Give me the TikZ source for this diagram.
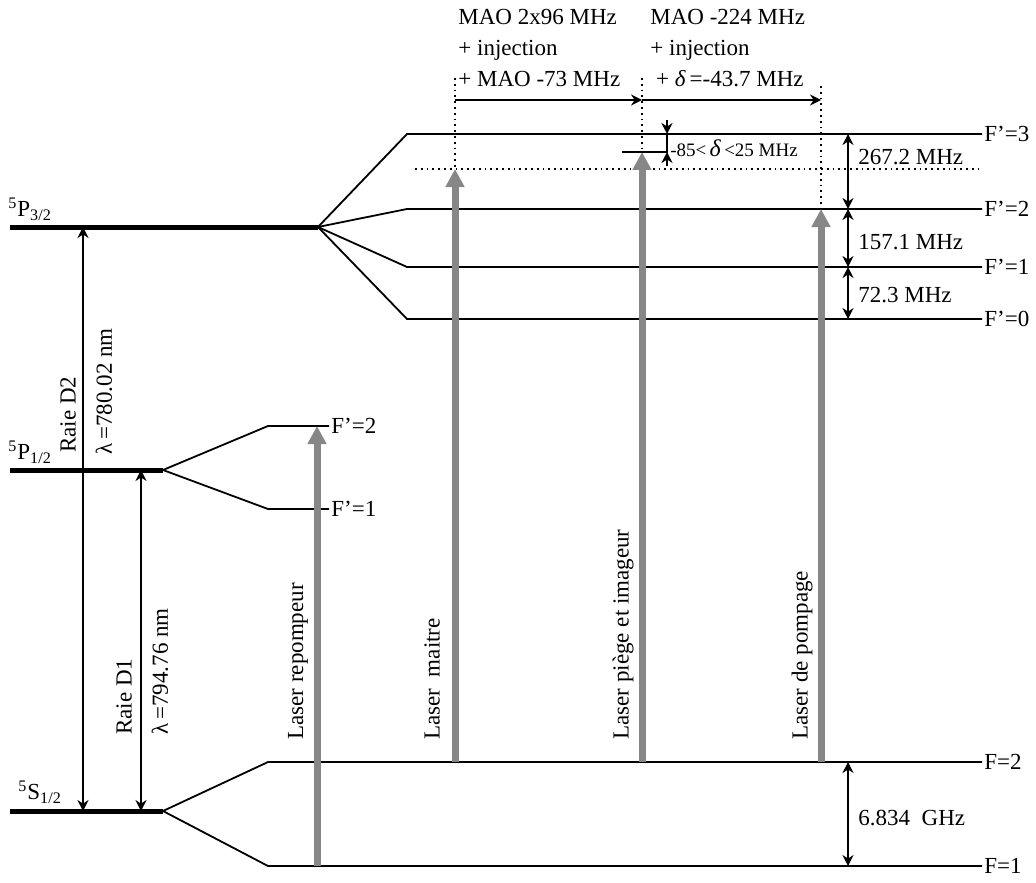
\documentclass[tikz,border=0pt]{standalone}
\usepackage{fontspec}
\setmainfont{Liberation Serif}
\usetikzlibrary{arrows.meta,positioning,calc}
\definecolor{lasergray}{HTML}{878787}
\tikzset{
  lvl/.style={line width=2.5pt},
  sublvl/.style={line width=0.9pt},
  lbl/.style={inner sep=1pt},
  vlbl/.style={inner sep=1pt, rotate=90, anchor=west},
  dimarr/.style={{Stealth[length=5.5pt,width=5.5pt]}-{Stealth[length=5.5pt,width=5.5pt]}, line width=0.9pt},
  sarr/.style={-{Stealth[length=5.5pt,width=5.5pt]}, line width=0.9pt},
  laser/.style={-{Triangle[length=9pt,width=9pt]}, line width=3.5pt, color=lasergray},
  guide/.style={dotted, line width=0.9pt}}

\begin{document}
\begin{tikzpicture}[x=0.5pt, y=-0.5pt, font=\fontsize{11.5}{15.5}\selectfont]
    \useasboundingbox (0,0) rectangle (1036,882);
    % fine structure
    \coordinate (p32l) at (10,227);  \coordinate (p32r) at (318,227);
    \coordinate (p12l) at (10,470);  \coordinate (p12r) at (163,470);
    \coordinate (s12l) at (10,811);  \coordinate (s12r) at (163,811);
    \draw[lvl] (p32l) -- (p32r);
    \draw[lvl] (p12l) -- (p12r);
    \draw[lvl] (s12l) -- (s12r);
    \node[lbl, anchor=south west] (tp32) at (6,223) {\textsuperscript{5}P\textsubscript{3/2}};
    \node[lbl, anchor=south west] (tp12) at (6,466) {\textsuperscript{5}P\textsubscript{1/2}};
    \node[lbl, anchor=south west] (ts12) at (16,806) {\textsuperscript{5}S\textsubscript{1/2}};
    % hyperfine 5P3/2
    \node[lbl, anchor=west] (hf3) at (982,134) {F’=3};
    \node[lbl, anchor=west] (hf2) at (982,209) {F’=2};
    \node[lbl, anchor=west] (hf1) at (982,267) {F’=1};
    \node[lbl, anchor=west] (hf0) at (982,319) {F’=0};
    \coordinate (a3) at (407,134);
    \coordinate (a2) at (407,209);
    \coordinate (a1) at (407,267);
    \coordinate (a0) at (407,319);
    \draw[sublvl] (p32r) -- (a3) -- (hf3.west);
    \draw[sublvl] (p32r) -- (a2) -- (hf2.west);
    \draw[sublvl] (p32r) -- (a1) -- (hf1.west);
    \draw[sublvl] (p32r) -- (a0) -- (hf0.west);
    % hyperfine 5P1/2
    \node[lbl, anchor=west] (hd2) at (329,426) {F’=2};
    \node[lbl, anchor=west] (hd1) at (329,509) {F’=1};
    \coordinate (b2) at (268,426);
    \coordinate (b1) at (268,509);
    \draw[sublvl] (p12r) -- (b2) -- (hd2.west);
    \draw[sublvl] (p12r) -- (b1) -- (hd1.west);
    % hyperfine 5S1/2
    \node[lbl, anchor=west] (hg2) at (982,762) {F=2};
    \node[lbl, anchor=west] (hg1) at (982,866) {F=1};
    \coordinate (c2) at (268,762);
    \coordinate (c1) at (268,866);
    \draw[sublvl] (s12r) -- (c2) -- (hg2.west);
    \draw[sublvl] (s12r) -- (c1) -- (hg1.west);
    % D lines
    \coordinate (d2t) at (83,227);  \coordinate (d2b) at (83,811);
    \coordinate (d1t) at (141,470); \coordinate (d1b) at (141,811);
    \draw[dimarr] (d2b) -- (d2t);
    \draw[dimarr] (d1b) -- (d1t);
    \node[vlbl] (rd2) at (68,455) {Raie D2};
    \node[vlbl] (ld2) at (104,457) {λ\,=780.02 nm};
    \node[vlbl] (rd1) at (124,737) {Raie D1};
    \node[vlbl] (ld1) at (160,737) {λ\,=794.76 nm};
    % reference for the master laser
    \draw[guide] (415,169) -- (980,169);
    % lasers
    \coordinate (rep0) at (317,866); \coordinate (rep1) at (317,426);
    \coordinate (mai0) at (455,762); \coordinate (mai1) at (455,169);
    \coordinate (pie0) at (642,762); \coordinate (pie1) at (642,152);
    \coordinate (pom0) at (821,762); \coordinate (pom1) at (821,209);
    \draw[laser] (rep0) -- (rep1);
    \draw[laser] (mai0) -- (mai1);
    \draw[laser] (pie0) -- (pie1);
    \draw[laser] (pom0) -- (pom1);
    \node[vlbl] (lrep) at (298,742) {Laser repompeur};
    \node[vlbl] (lmai) at (432,742) {Laser\ \ maitre};
    \node[vlbl] (lpie) at (623,742) {Laser piège et imageur};
    \node[vlbl] (lpom) at (802,742) {Laser de pompage};
    % frequency shifts
    \coordinate (m0) at (455,78);  \coordinate (m1) at (455,100);
    \coordinate (n0) at (642,78);  \coordinate (n1) at (642,100);
    \coordinate (q0) at (821,86);  \coordinate (q1) at (821,100);
    \draw[guide] (m0) -- (mai1);
    \draw[guide] (n0) -- (pie1);
    \draw[guide] (q0) -- (pom1);
    \draw[sarr] (m1) -- (n1);
    \draw[sarr] (n1) -- (q1);
    \node[lbl, anchor=north west, align=left, inner sep=0pt] (mao1) at (458,9)
      {MAO 2x96 MHz\\+ injection\\+ MAO -73 MHz};
    \node[lbl, anchor=north west, align=left, inner sep=0pt] (mao2) at (650,9)
      {MAO -224 MHz\\+ injection\\\ + \textit{δ}\,=-43.7 MHz};
    % detuning range
    \coordinate (r0) at (622,152); \coordinate (r1) at (667,152); \coordinate (r2) at (667,134);
    \coordinate (r3) at (667,120); \coordinate (r4) at (667,166);
    \draw[sublvl] (r0) -- (r1) -- (r2);
    \draw[sarr] (r3) -- (r2);
    \draw[sarr] (r4) -- (r1);
    \node[lbl, anchor=west, font=\fontsize{9.5}{11}\selectfont] (rng) at (668,148)
      {-85<\,{\fontsize{12}{12}\selectfont\textit{δ}}\,<25 MHz};
    % splittings
    \coordinate (e3) at (848,134); \coordinate (e2) at (848,209);
    \coordinate (e1) at (848,267); \coordinate (e0) at (848,319);
    \coordinate (g2) at (848,762); \coordinate (g1) at (848,866);
    \draw[dimarr] (e3) -- (e2);
    \draw[dimarr] (e2) -- (e1);
    \draw[dimarr] (e1) -- (e0);
    \draw[dimarr] (g2) -- (g1);
    \node[lbl, anchor=west] (s32) at (856,157) {267.2 MHz};
    \node[lbl, anchor=west] (s21) at (856,242) {157.1 MHz};
    \node[lbl, anchor=west] (s10) at (856,295) {72.3 MHz};
    \node[lbl, anchor=west] (sg) at (856,818) {6.834\ \ GHz};
  \end{tikzpicture}
\end{document}
